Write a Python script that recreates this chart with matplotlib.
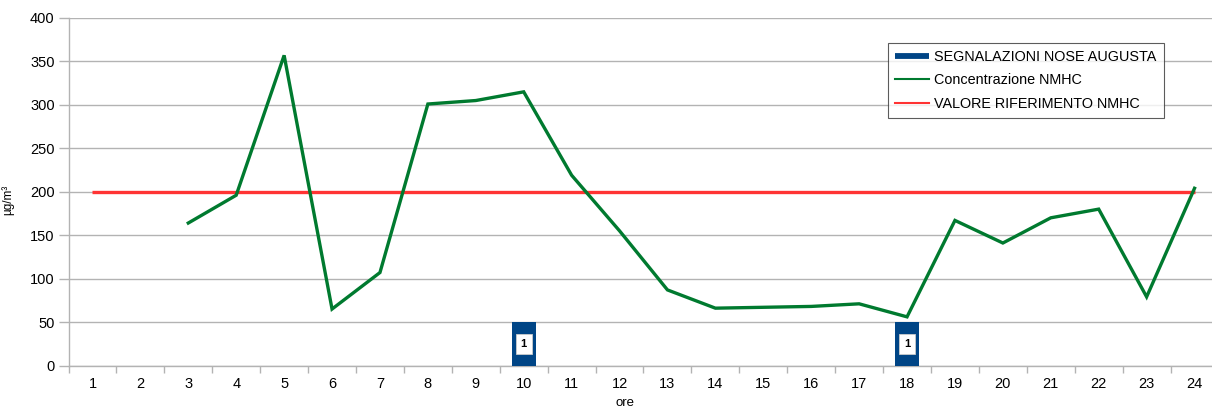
import matplotlib
matplotlib.use("Agg")
import matplotlib.pyplot as plt
from matplotlib.lines import Line2D
import numpy as np

plt.rcParams['font.family'] = ['Liberation Sans', 'DejaVu Sans']

# Hours of the day
hours = list(range(1, 25))
hour_labels = [str(h) for h in hours]

# NMHC concentration (µg/m³); no data for hours 1-2
nmhc = [None, None, 164, 196, 357, 65, 107, 301, 305, 315, 219, 155,
        87, 66, 67, 68, 71, 56, 167, 141, 170, 180, 79, 204]

# Reference value for NMHC
reference = [200] * 24

# Nose Augusta reports per hour
reports = [0, 0, 0, 0, 0, 0, 0, 0, 0, 1, 0, 0,
           0, 0, 0, 0, 0, 1, 0, 0, 0, 0, 0, 0]

GREEN = '#007a2f'
RED = '#ff3333'
BLUE = '#004586'
GRID = '#b3b3b3'

fig = plt.figure(figsize=(12.12, 4.07), dpi=100)
ax = fig.add_axes([68.5 / 1212, 41.5 / 407, 1150 / 1212, 347.5 / 407])

x = np.array(hours, dtype=float)
y = np.array([np.nan if v is None else v for v in nmhc], dtype=float)

ax.plot(x, reference, color=RED, lw=2.4, solid_capstyle='butt', zorder=3)
ax.plot(x, y, color=GREEN, lw=2.4, solid_joinstyle='miter', zorder=4)

ax.set_xlim(0.5, 24.5)
ax.set_ylim(0, 400)
ax.set_yticks(range(0, 401, 50))
ax.set_xticks(hours)
ax.set_xticklabels(hour_labels)
ax.set_xticks(np.arange(0.5, 25, 1), minor=True)
ax.tick_params(axis='x', which='major', length=0, pad=8, labelsize=10.5)
ax.tick_params(axis='x', which='minor', length=5, color=GRID, width=1)
ax.tick_params(axis='y', length=7, color=GRID, width=1, labelsize=10.5, pad=3)
ax.yaxis.grid(True, color=GRID, lw=1)
ax.set_axisbelow(True)
for side in ('top', 'right'):
    ax.spines[side].set_visible(False)
for side in ('left', 'bottom'):
    ax.spines[side].set_color(GRID)
    ax.spines[side].set_linewidth(1)

ax.set_ylabel('µg/m³', fontsize=8.5)
ax.yaxis.set_label_coords(-0.047, 0.476)
fig.text(625 / 1212, 1 - 403 / 407, 'ore', ha='center', va='center', fontsize=9.5)

# Reports on a secondary scale
ax2 = ax.twinx()
ax2.set_ylim(0, 8)
ax2.set_axis_off()
bx = [h for h, r in zip(hours, reports) if r > 0]
bv = [r for r in reports if r > 0]
ax2.bar(bx, bv, width=0.5, color=BLUE, zorder=2)
for h, r in zip(bx, bv):
    ax2.text(h, r / 2, str(r), ha='center', va='center', fontsize=8,
             fontweight='bold',
             bbox=dict(boxstyle='square,pad=0.45', fc='white', ec='#cccccc', lw=0.6))

handles = [Line2D([], [], color=BLUE, lw=4.2, solid_capstyle='butt'),
           Line2D([], [], color=GREEN, lw=1.5),
           Line2D([], [], color=RED, lw=1.5)]
labels = ['SEGNALAZIONI NOSE AUGUSTA', 'Concentrazione NMHC', 'VALORE RIFERIMENTO NMHC']
leg = fig.legend(handles, labels, loc='upper left',
                 bbox_to_anchor=(887.7 / 1212, 1 - 42.7 / 407),
                 fontsize=10.4, frameon=True, fancybox=False, borderaxespad=0,
                 handlelength=2.35, handletextpad=0.35, labelspacing=0.65,
                 borderpad=0.5)
leg.get_frame().set_edgecolor('#333333')
leg.get_frame().set_linewidth(0.8)

fig.savefig('out.png', dpi=100)
